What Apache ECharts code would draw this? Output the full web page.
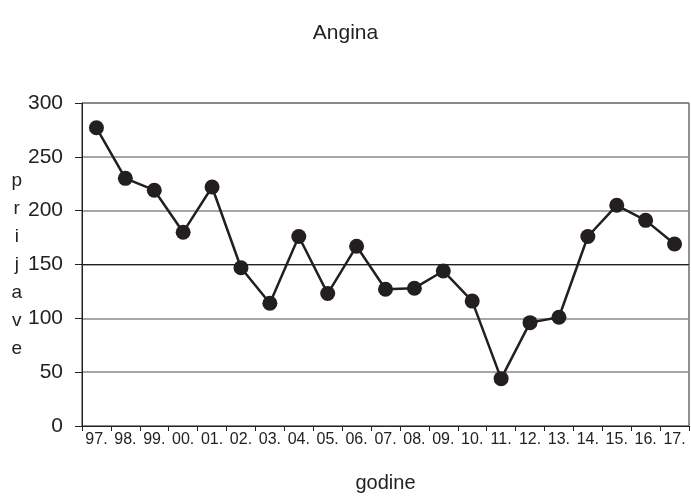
<!DOCTYPE html>
<html>
<head>
<meta charset="utf-8">
<script src="https://cdn.jsdelivr.net/npm/echarts@6/dist/echarts.min.js"></script>
<style>html,body{margin:0;padding:0;background:#fff}#c{width:691px;height:498px}</style>
</head>
<body>
<div id="c"></div>
<script>
const titleText = 'Angina';
const xName = 'godine';
const yName = 'prijave';
const categories = ['97.','98.','99.','00.','01.','02.','03.','04.','05.','06.','07.','08.','09.','10.','11.','12.','13.','14.','15.','16.','17.'];
const values = [277,230,219,180,222,147,114,176,123,167,127,128,144,116,44,96,101,176,205,191,169];
const yTicks = [0,50,100,150,200,250,300];

const chart = echarts.init(document.getElementById('c'));
chart.setOption({
  animation: false,
  backgroundColor: '#fff',
  title: {
    text: titleText, left: 'center', top: 18,
    textStyle: {fontFamily: 'Liberation Sans', fontSize: 21, fontWeight: 'normal', color: '#222'}
  },
  grid: {left: 82, right: 2, top: 103, bottom: 70, show: true, borderColor: '#222', borderWidth: 1, backgroundColor: 'transparent'},
  xAxis: {
    type: 'category', data: categories, boundaryGap: true,
    name: xName, nameLocation: 'middle', nameGap: 47,
    nameTextStyle: {fontFamily: 'Liberation Sans', fontSize: 20, color: '#222'},
    axisLine: {lineStyle: {color: '#222', width: 1}},
    axisTick: {show: true, length: 5, lineStyle: {color: '#222'}},
    axisLabel: {fontFamily: 'Liberation Sans', fontSize: 16, color: '#222', margin: 6, interval: 0},
    splitLine: {show: false}
  },
  yAxis: {
    type: 'value', min: yTicks[0], max: yTicks[yTicks.length-1], interval: 50,
    name: yName.split('').join('\n'), nameLocation: 'middle', nameRotate: 0, nameGap: 64,
    nameTextStyle: {fontFamily: 'Liberation Sans', fontSize: 19, color: '#222', lineHeight: 28, align: 'center'},
    axisLine: {show: true, lineStyle: {color: '#222', width: 1}},
    axisTick: {show: true, length: 7, lineStyle: {color: '#222'}},
    axisLabel: {fontFamily: 'Liberation Sans', fontSize: 21, color: '#222', margin: 19},
    splitLine: {show: true, lineStyle: {color: '#888', width: 1.5}}
  },
  series: [{
    type: 'line', data: values,
    symbol: 'circle', symbolSize: 15,
    lineStyle: {color: '#231f20', width: 2.5},
    itemStyle: {color: '#231f20'},
    markLine: {
      silent: true, symbol: 'none', label: {show: false},
      lineStyle: {color: '#222', type: 'solid', width: 1.2},
      data: [{yAxis: yTicks[3]}]
    },
    z: 5
  }]
});
</script>
</body>
</html>
